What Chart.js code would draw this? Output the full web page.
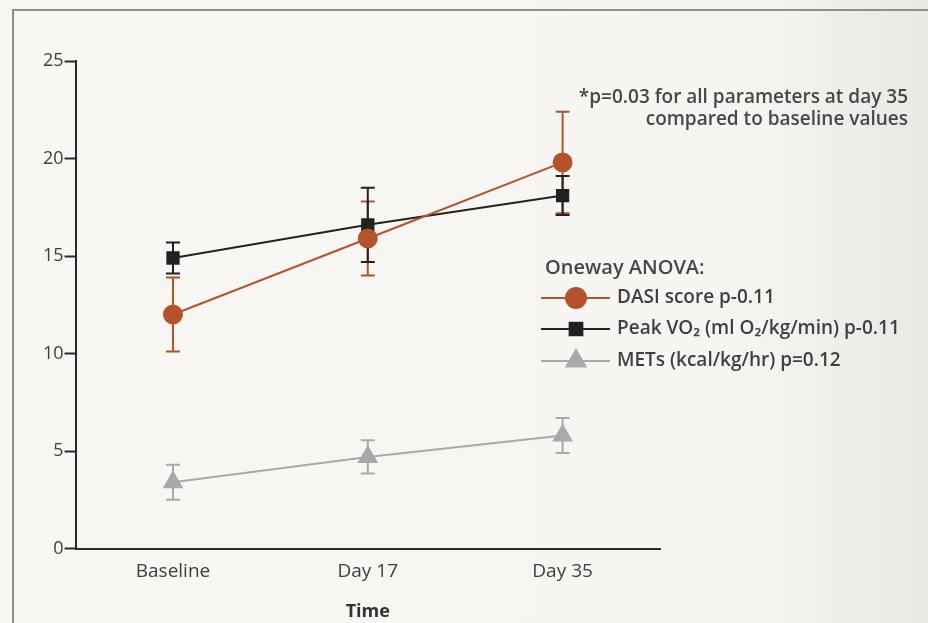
<!DOCTYPE html>
<html>
<head>
<meta charset="utf-8">
<script src="https://cdn.jsdelivr.net/npm/chart.js@4/dist/chart.umd.min.js"></script>
<style>
  html, body { margin: 0; padding: 0; background: #f7f6f2; }
  #wrap { position: relative; width: 928px; height: 623px;
          background: linear-gradient(to right, #f8f7f3 0%, #f6f5f1 80%, #e9e8e4 100%); }
  #frame { position: absolute; left: 12px; top: 9px; right: -4px; bottom: -4px;
           border-left: 2px solid #8d8d8d; border-top: 2px solid #8f8f8f; }
  canvas { position: absolute; left: 0; top: 0; }
</style>
</head>
<body>
<div id="wrap">
  <div id="frame"></div>
  <canvas id="grafico" width="928" height="623"></canvas>
</div>
<script>
const categorias = ["Baseline", "Day 17", "Day 35"];

const dasi = [12.0, 15.9, 19.8];
const dasiErro = [1.9, 1.9, 2.6];

const peakVo2 = [14.9, 16.6, 18.1];
const peakVo2Erro = [0.8, 1.9, 1.0];

const mets = [3.4, 4.7, 5.8];
const metsErro = [0.9, 0.85, 0.9];

const yTicks = [0, 5, 10, 15, 20, 25];

const nota = ["*p=0.03 for all parameters at day 35", "compared to baseline values"];
const tituloLegenda = "Oneway ANOVA:";

const fonte = "'Open Sans', 'Noto Sans', sans-serif";

// desenha as barras de erro usando as escalas do grafico
const barrasErro = {
  id: "barrasErro",
  beforeDatasetsDraw(chart) {
    const ctx = chart.ctx;
    const y = chart.scales.y;
    chart.data.datasets.forEach((ds, i) => {
      const meta = chart.getDatasetMeta(i);
      ctx.save();
      ctx.strokeStyle = ds.borderColor;
      ctx.lineWidth = 2;
      meta.data.forEach((pt, j) => {
        const top = y.getPixelForValue(ds.data[j] + ds.erro[j]);
        const bot = y.getPixelForValue(ds.data[j] - ds.erro[j]);
        ctx.beginPath();
        ctx.moveTo(pt.x, top);
        ctx.lineTo(pt.x, bot);
        ctx.moveTo(pt.x - 7, top);
        ctx.lineTo(pt.x + 7, top);
        ctx.moveTo(pt.x - 7, bot);
        ctx.lineTo(pt.x + 7, bot);
        ctx.stroke();
      });
      ctx.restore();
    });
  },
};

// legenda e nota desenhadas a mao
const legendaNota = {
  id: "legendaNota",
  afterDraw(chart) {
    const ctx = chart.ctx;
    ctx.save();
    ctx.fillStyle = "#474747";
    ctx.font = "600 19px " + fonte;
    ctx.textAlign = "right";
    ctx.textBaseline = "middle";
    ctx.fillText(nota[0], 908, 98);
    ctx.fillText(nota[1], 908, 120);

    ctx.textAlign = "left";
    ctx.font = "600 20px " + fonte;
    ctx.fillText(tituloLegenda, 545, 268);

    ctx.font = "600 19px " + fonte;
    const linhasY = [298, 329, 361];
    chart.data.datasets.forEach((ds, i) => {
      const yy = linhasY[i];
      ctx.strokeStyle = ds.borderColor;
      ctx.lineWidth = 2;
      ctx.beginPath();
      ctx.moveTo(541, yy);
      ctx.lineTo(610, yy);
      ctx.stroke();
      ctx.fillStyle = ds.pointBackgroundColor;
      ctx.strokeStyle = ds.pointBorderColor;
      Chart.helpers.drawPoint(ctx, {
        pointStyle: ds.pointStyle,
        radius: ds.pointRadius + 1,
        rotation: 0,
        borderWidth: 1,
      }, 576, yy);
      ctx.fillStyle = "#3f3f3f";
      ctx.fillText(ds.label, 617, yy);
    });
    ctx.restore();
  },
};

new Chart(document.getElementById("grafico"), {
  type: "line",
  data: {
    labels: categorias,
    datasets: [
      {
        label: "DASI score p-0.11",
        data: dasi,
        erro: dasiErro,
        borderColor: "#b4532b",
        pointBackgroundColor: "#b4532b",
        pointBorderColor: "#b4532b",
        pointStyle: "circle",
        pointRadius: 9,
        borderWidth: 2,
      },
      {
        label: "Peak VO₂ (ml O₂/kg/min) p-0.11",
        data: peakVo2,
        erro: peakVo2Erro,
        borderColor: "#222222",
        pointBackgroundColor: "#222222",
        pointBorderColor: "#222222",
        pointStyle: "rect",
        pointRadius: 8,
        borderWidth: 2,
      },
      {
        label: "METs (kcal/kg/hr) p=0.12",
        data: mets,
        erro: metsErro,
        borderColor: "#a9a9a9",
        pointBackgroundColor: "#a9a9a9",
        pointBorderColor: "#a9a9a9",
        pointStyle: "triangle",
        pointRadius: 10,
        borderWidth: 2,
      },
    ],
  },
  options: {
    responsive: false,
    animation: false,
    layout: {
      padding: { left: 42, right: 268, top: 61, bottom: 0 },
    },
    scales: {
      x: {
        offset: true,
        grid: { display: false },
        border: { display: true, color: "#2a2a2a", width: 2 },
        ticks: {
          color: "#3e3e3e",
          padding: 4,
          font: { family: fonte, size: 19 },
        },
        title: {
          display: true,
          text: "Time",
          color: "#333",
          padding: { top: 14, bottom: 0 },
          font: { family: fonte, size: 18, weight: "bold" },
        },
      },
      y: {
        min: 0,
        max: 25,
        afterBuildTicks(axis) {
          axis.ticks = yTicks.map((v) => ({ value: v }));
        },
        grid: {
          drawOnChartArea: false,
          tickLength: 11,
          tickColor: "#2a2a2a",
          tickWidth: 2,
        },
        border: { display: true, color: "#2a2a2a", width: 2 },
        ticks: {
          color: "#3e3e3e",
          padding: 1,
          font: { family: fonte, size: 18 },
        },
      },
    },
    plugins: {
      legend: { display: false },
      tooltip: { enabled: false },
    },
  },
  plugins: [barrasErro, legendaNota],
});
</script>
</body>
</html>
